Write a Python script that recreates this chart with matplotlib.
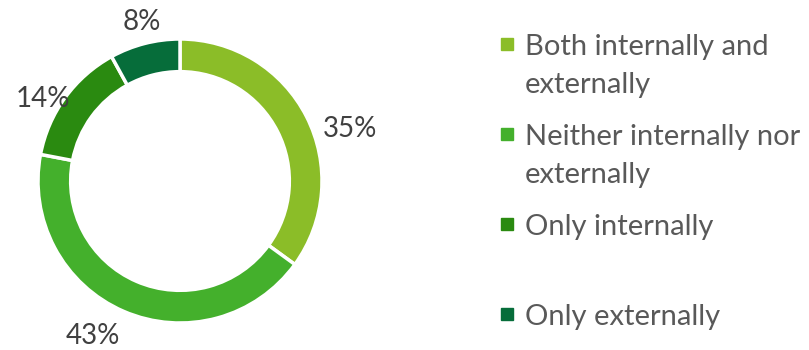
import matplotlib
matplotlib.use("Agg")
import matplotlib.pyplot as plt
import numpy as np

# Survey shares and legend labels
categories = ["Both internally and\nexternally", "Neither internally nor\nexternally",
              "Only internally", "Only externally"]
shares = [35, 43, 14, 8]
colors = ["#8bbd28", "#44b02c", "#2a8a10", "#066d3a"]

plt.rcParams["font.family"] = ["Lato", "DejaVu Sans"]

fig = plt.figure(figsize=(8.09, 3.5), dpi=100)
ax = fig.add_axes([0, 0, 1, 1])

# Donut, clockwise from 12 o'clock
cx, cy, r = 180, 169, 142
wedges, _ = ax.pie(shares, colors=colors, startangle=90, counterclock=False,
                   center=(cx, cy), radius=r, frame=True,
                   wedgeprops=dict(width=r * 0.23, edgecolor="white", linewidth=2.5))
ax.set_xlim(0, 809)
ax.set_ylim(0, 350)
ax.set_aspect("equal")
ax.axis("off")

# Percentage labels outside each slice
nudge = [-10, -6, 5, -1]
dist = [178, 178, 160, 163]
for w, s, dn, d in zip(wedges, shares, nudge, dist):
    mid = np.deg2rad((w.theta1 + w.theta2) / 2 + dn)
    ax.text(cx + d * np.cos(mid), cy + d * np.sin(mid), f"{s}%",
            ha="center", va="center", fontsize=20, color="#404040")

# Legend on the right
y0 = 306
for i, (lab, c) in enumerate(zip(categories, colors)):
    y = y0 - i * 90
    ax.add_patch(plt.Rectangle((501, y - 6), 12, 12, color=c))
    ax.text(525, y, lab.split("\n")[0], ha="left", va="center_baseline",
            fontsize=21, color="#595959")
    if "\n" in lab:
        ax.text(525, y - 38, lab.split("\n")[1], ha="left", va="center_baseline",
                fontsize=21, color="#595959")

fig.savefig("out.png", dpi=100)
